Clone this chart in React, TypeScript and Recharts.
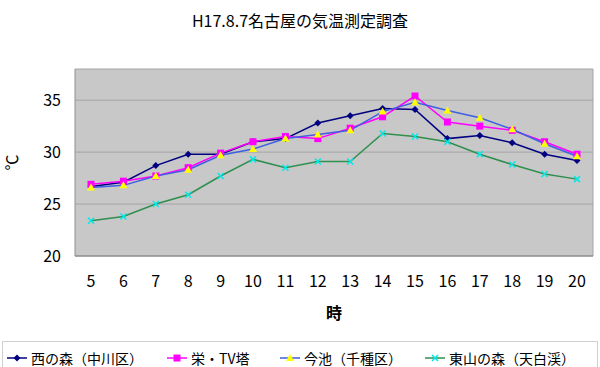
import { LineChart, Line, XAxis, YAxis, CartesianGrid } from "recharts";

const hours = ["5", "6", "7", "8", "9", "10", "11", "12", "13", "14", "15", "16", "17", "18", "19", "20"];
const nishi = [26.7, 27.1, 28.7, 29.8, 29.8, 31.0, 31.3, 32.8, 33.5, 34.2, 34.1, 31.3, 31.6, 30.9, 29.8, 29.2];
const sakae = [26.9, 27.2, 27.7, 28.5, 29.9, 31.0, 31.5, 31.3, 32.3, 33.4, 35.4, 32.9, 32.5, 32.1, 31.0, 29.8];
const imaike = [26.6, 26.8, 27.7, 28.3, 29.7, 30.3, 31.3, 31.7, 32.1, 33.9, 34.8, 34.0, 33.3, 32.2, 30.8, 29.6];
const higashiyama = [23.4, 23.8, 25.0, 25.9, 27.7, 29.3, 28.5, 29.1, 29.1, 31.8, 31.5, 31.0, 29.8, 28.8, 27.9, 27.4];
const yTicks = [20, 25, 30, 35];
const yMin = 20;
const yMax = 38;

const series = [
  { key: "nishi", name: "西の森（中川区）", color: "#000080", marker: "diamond", markerColor: "#000080", legendX: 7 },
  { key: "sakae", name: "栄・TV塔", color: "#ff00ff", marker: "square", markerColor: "#ff00ff", legendX: 167 },
  { key: "imaike", name: "今池（千種区）", color: "#3d5fe0", marker: "triangle", markerColor: "#ffff00", legendX: 280 },
  { key: "higashiyama", name: "東山の森（天白渓）", color: "#2f8f4f", marker: "cross", markerColor: "#00e8e8", legendX: 425 },
];

const data = hours.map((h, i) => ({
  hour: h,
  nishi: nishi[i],
  sakae: sakae[i],
  imaike: imaike[i],
  higashiyama: higashiyama[i],
}));

const font = '"Noto Sans CJK JP", "Noto Sans", sans-serif';

function Marker({ type, color, cx, cy }: { type: string; color: string; cx: number; cy: number }) {
  if (type === "diamond") {
    return <path d={`M${cx},${cy - 3.5}L${cx + 3.5},${cy}L${cx},${cy + 3.5}L${cx - 3.5},${cy}Z`} fill={color} />;
  }
  if (type === "square") {
    return <rect x={cx - 3.5} y={cy - 3.5} width={7} height={7} fill={color} />;
  }
  if (type === "triangle") {
    return <path d={`M${cx},${cy - 4}L${cx + 4},${cy + 3}L${cx - 4},${cy + 3}Z`} fill={color} />;
  }
  return (
    <path d={`M${cx - 3},${cy - 3}L${cx + 3},${cy + 3}M${cx + 3},${cy - 3}L${cx - 3},${cy + 3}`} stroke={color} strokeWidth={1.5} />
  );
}

export default function App() {
  return (
    <div style={{ position: "absolute", left: 0, top: 0, width: 600, height: 367, overflow: "hidden", background: "#fff", fontFamily: font }}>
      <div style={{ position: "absolute", top: 8, width: 600, textAlign: "center", fontSize: 16, color: "#000" }}>
        H17.8.7名古屋の気温測定調査
      </div>
      <LineChart width={600} height={367} data={data} margin={{ top: 69, right: 7, bottom: 41, left: 0 }}>
        <CartesianGrid
          fill="#c8c8c8"
          stroke="#a4a4a4"
          horizontalCoordinatesGenerator={({ offset }: any) =>
            [...yTicks, yMax].map((v) => offset.top + (offset.height * (yMax - v)) / (yMax - yMin))
          }
          verticalCoordinatesGenerator={({ offset }: any) => [offset.left + offset.width]}
        />
        <XAxis
          dataKey="hour"
          height={70}
          padding={{ left: 16, right: 16 }}
          tickLine={false}
          tickSize={0}
          tickMargin={20}
          axisLine={{ stroke: "#808080" }}
          tick={{ fontSize: 16, fill: "#000", fontFamily: font }}
          interval={0}
          label={{ value: "時", position: "insideTop", offset: 52, fontSize: 16, fontWeight: "bold", fill: "#000", fontFamily: font }}
        />
        <YAxis
          width={75}
          domain={[yMin, yMax]}
          ticks={yTicks}
          tickLine={false}
          tickSize={0}
          tickMargin={14}
          axisLine={{ stroke: "#909090" }}
          tick={{ fontSize: 16, fill: "#000", fontFamily: font }}
          label={{ value: "℃", angle: -90, position: "insideLeft", offset: 12, fontSize: 16, fill: "#000", fontFamily: font, style: { textAnchor: "middle" } }}
        />
        {series.map((s) => (
          <Line
            key={s.key}
            dataKey={s.key}
            name={s.name}
            stroke={s.color}
            strokeWidth={1.5}
            isAnimationActive={false}
            dot={(p: any) => (
              <Marker key={`${s.key}-${p.index}`} type={s.marker} color={s.markerColor} cx={p.cx} cy={p.cy} />
            )}
            activeDot={false}
          />
        ))}
      </LineChart>
      <div
        style={{
          position: "absolute",
          left: 2,
          top: 341,
          width: 596,
          height: 30,
          border: "1px solid #d0d0d0",
          boxSizing: "border-box",
        }}
      />
      {series.map((s) => (
        <div key={s.key} style={{ position: "absolute", left: s.legendX, top: 348, height: 20, display: "flex", alignItems: "center" }}>
          <svg width={20} height={10}>
            <line x1={0} y1={5} x2={20} y2={5} stroke={s.color} strokeWidth={1.5} />
            <Marker type={s.marker} color={s.markerColor} cx={10} cy={5} />
          </svg>
          <span style={{ marginLeft: 4, fontSize: 14, lineHeight: "20px", color: "#000", whiteSpace: "nowrap" }}>{s.name}</span>
        </div>
      ))}
    </div>
  );
}
